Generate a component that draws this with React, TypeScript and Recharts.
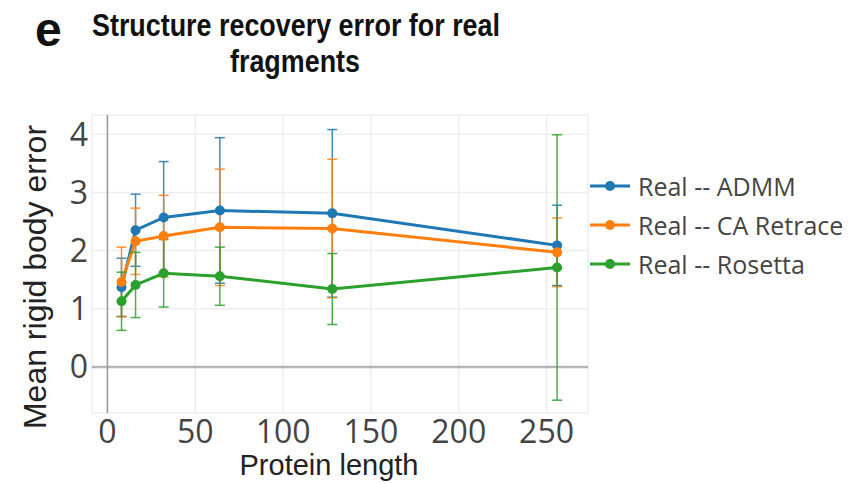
import { LineChart, Line, XAxis, YAxis, CartesianGrid, ErrorBar, ReferenceLine } from 'recharts'

const lengths = [8, 16, 32, 64, 128, 256]
const admm = [1.37, 2.35, 2.57, 2.69, 2.64, 2.09]
const admmErr = [0.5, 0.62, 0.96, 1.25, 1.44, 0.69]
const caRetrace = [1.46, 2.16, 2.25, 2.4, 2.38, 1.97]
const caRetraceErr = [0.6, 0.57, 0.7, 1.0, 1.19, 0.59]
const rosetta = [1.13, 1.41, 1.61, 1.56, 1.34, 1.71]
const rosettaErr = [0.5, 0.56, 0.58, 0.5, 0.61, 2.28]

const xTicks = [0, 50, 100, 150, 200, 250]
const yTicks = [0, 1, 2, 3, 4]

const series = [
  { key: 'admm', err: 'admmErr', name: 'Real -- ADMM', color: '#1f77b4' },
  { key: 'ca', err: 'caErr', name: 'Real -- CA Retrace', color: '#ff7f0e' },
  { key: 'rosetta', err: 'rosettaErr', name: 'Real -- Rosetta', color: '#2ca02c' },
]

const data = lengths.map((len, i) => ({
  len,
  admm: admm[i],
  admmErr: admmErr[i],
  ca: caRetrace[i],
  caErr: caRetraceErr[i],
  rosetta: rosetta[i],
  rosettaErr: rosettaErr[i],
}))

const tickStyle = { fontSize: 32, fill: '#444', fontFamily: 'Open Sans' }
const labelFont = '"Liberation Sans", Arial, sans-serif'

export default function App() {
  return (
    <div style={{ position: 'absolute', left: 0, top: 0, width: 861, height: 483, background: '#fff' }}>
      <LineChart width={861} height={483} data={data} margin={{ top: 115, right: 273, bottom: 0, left: 0 }}>
        <CartesianGrid stroke="#eeeeee" strokeWidth={1.5} />
        <XAxis
          type="number"
          dataKey="len"
          domain={[-8.8, 273.6]}
          ticks={xTicks}
          interval={0}
          allowDataOverflow
          axisLine={false}
          tickLine={false}
          tickSize={0}
          tickMargin={7}
          height={70}
          tick={tickStyle}
        />
        <YAxis
          type="number"
          domain={[-0.79, 4.33]}
          ticks={yTicks}
          interval={0}
          allowDataOverflow
          axisLine={false}
          tickLine={false}
          tickSize={0}
          tickMargin={4}
          width={92}
          tick={tickStyle}
        />
        <ReferenceLine y={0} stroke="#b5b5b5" strokeWidth={2.5} />
        <ReferenceLine x={0} stroke="#9a9a9a" strokeWidth={1.5} />
        {series.map((s) => (
          <Line
            key={s.key}
            type="linear"
            dataKey={s.key}
            name={s.name}
            stroke={s.color}
            strokeWidth={3}
            dot={{ r: 5, fill: s.color, stroke: s.color, strokeWidth: 0 }}
            activeDot={false}
            isAnimationActive={false}
          >
            <ErrorBar dataKey={s.err} width={5} strokeWidth={1.5} stroke={s.color} strokeOpacity={0.85} direction="y" />
          </Line>
        ))}
      </LineChart>
      <svg
        width={861}
        height={483}
        style={{ position: 'absolute', left: 0, top: 0, pointerEvents: 'none' }}
      >
        <text x={35} y={46} fontFamily={labelFont} fontWeight="bold" fontSize={48} fill="#111">e</text>
        <text
          x={296}
          y={36}
          textAnchor="middle"
          fontFamily={labelFont}
          fontWeight="bold"
          fontSize={31}
          fill="#111"
          textLength={408}
          lengthAdjust="spacingAndGlyphs"
        >
          Structure recovery error for real
        </text>
        <text
          x={295}
          y={72}
          textAnchor="middle"
          fontFamily={labelFont}
          fontWeight="bold"
          fontSize={31}
          fill="#111"
          textLength={130}
          lengthAdjust="spacingAndGlyphs"
        >
          fragments
        </text>
        <text
          transform="translate(46, 277) rotate(-90)"
          textAnchor="middle"
          fontFamily={labelFont}
          fontSize={32}
          fill="#222"
        >
          Mean rigid body error
        </text>
        <text x={329} y={475} textAnchor="middle" fontFamily={labelFont} fontSize={29} fill="#222">
          Protein length
        </text>
        {series.map((s, i) => {
          const y = 186 + i * 39
          return (
            <g key={s.key}>
              <line x1={590} x2={630} y1={y} y2={y} stroke={s.color} strokeWidth={3} />
              <circle cx={610} cy={y} r={5} fill={s.color} />
              <text
                x={638}
                y={y}
                dominantBaseline="central"
                fontFamily="Open Sans"
                fontSize={25}
                fill="#444"
              >
                {s.name}
              </text>
            </g>
          )
        })}
      </svg>
    </div>
  )
}
